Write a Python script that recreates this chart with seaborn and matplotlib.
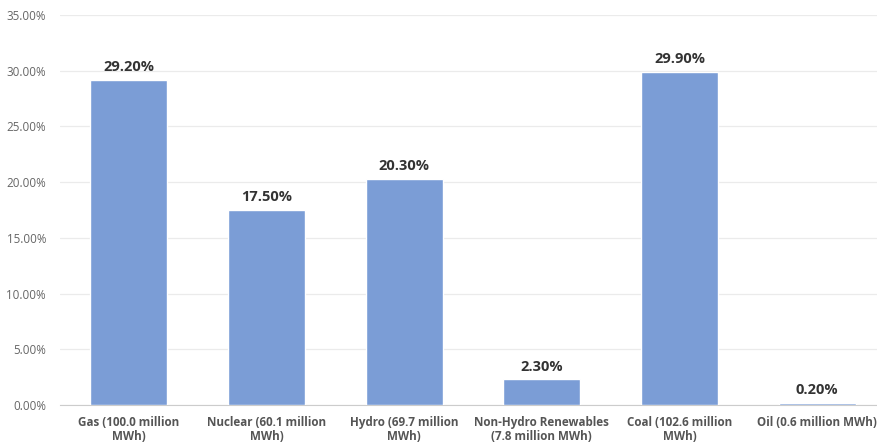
import matplotlib
matplotlib.use("Agg")
import matplotlib.pyplot as plt
import seaborn as sns
import pandas as pd

categories = ["Gas (100.0 million\nMWh)", "Nuclear (60.1 million\nMWh)", "Hydro (69.7 million\nMWh)",
              "Non-Hydro Renewables\n(7.8 million MWh)", "Coal (102.6 million\nMWh)", "Oil (0.6 million MWh)"]
values = [29.2, 17.5, 20.3, 2.3, 29.9, 0.2]
yticks = [0, 5, 10, 15, 20, 25, 30, 35]

sns.set_style("white")
plt.rcParams['font.family'] = ['Open Sans', 'DejaVu Sans']

df = pd.DataFrame({"cat": categories, "val": values})
fig = plt.figure(figsize=(8.77, 4.45), dpi=100)
W, H = 877, 445
left, right, top, bottom = 60, 886, 15, 405
ax = fig.add_axes([left / W, (H - bottom) / H, (right - left) / W, (bottom - top) / H])
sns.barplot(data=df, x="cat", y="val", color="#7b9dd6", saturation=1, width=0.56, ax=ax, zorder=3)
ax.set_ylim(0, 35)
ax.set_yticks(yticks)
ax.set_yticklabels([f"{v:.2f}%" for v in yticks], fontsize=8.4, color="#666666")
ax.set_xlabel("")
ax.set_ylabel("")
ax.set_xlim(-0.5, len(categories) - 0.5)
ax.grid(axis="y", color="#ebebeb", linewidth=0.9, zorder=0)
for s in ["top", "right", "left"]:
    ax.spines[s].set_visible(False)
ax.spines["bottom"].set_color("#cccccc")
ax.tick_params(axis="y", length=0, pad=10)
ax.tick_params(axis="x", length=0, pad=8)
for lab in ax.get_xticklabels():
    lab.set_fontsize(8.4)
    lab.set_fontweight("bold")
    lab.set_color("#555555")
    lab.set_linespacing(1.1)
for i, v in enumerate(values):
    ax.annotate(f"{v:.2f}%", (i, v), xytext=(0, 4), textcoords="offset points",
                ha="center", va="bottom", fontsize=10.5, fontweight="bold", color="#333333")
fig.savefig("out.png", dpi=100)
